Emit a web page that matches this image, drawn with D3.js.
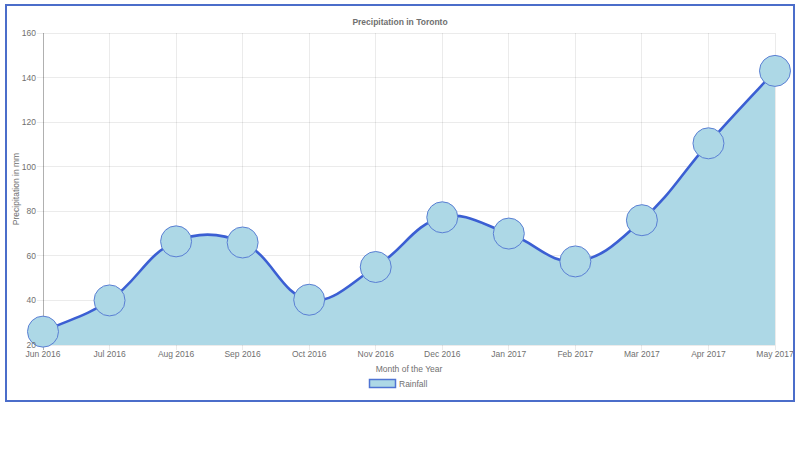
<!DOCTYPE html>
<html>
<head>
<meta charset="utf-8">
<script src="https://cdn.jsdelivr.net/npm/d3@7"></script>
<style>
  html, body { margin: 0; padding: 0; background: #fff; }
  svg { display: block; font-family: "Liberation Sans", Arial, Helvetica, sans-serif; }
</style>
</head>
<body>
<svg id="chart" width="800" height="450"></svg>
<script>
const months = ["Jun 2016","Jul 2016","Aug 2016","Sep 2016","Oct 2016","Nov 2016","Dec 2016","Jan 2017","Feb 2017","Mar 2017","Apr 2017","May 2017"];
const rainfall = [26, 40, 66.5, 66, 40.3, 55, 77.3, 70, 57.5, 76, 110.5, 143];
const yTicks = [20, 40, 60, 80, 100, 120, 140, 160];
const titleText = "Precipitation in Toronto";
const xTitle = "Month of the Year";
const yTitle = "Precipitation in mm";
const seriesName = "Rainfall";

(function () {
const svg = d3.select("#chart");
const pL = 43, pR = 775, pT = 33, pB = 345;

// outer border
svg.append("rect").attr("x", 6).attr("y", 5).attr("width", 788).attr("height", 396)
  .attr("fill", "none").attr("stroke", "#4b6dca").attr("stroke-width", 2);

const x = d3.scalePoint().domain(months).range([pL, pR]);
const y = d3.scaleLinear().domain([20, 160]).range([pB, pT]);

// grid
const g = svg.append("g");
g.selectAll(".hg").data(yTicks).join("line")
  .attr("x1", pL - 6).attr("x2", pR).attr("y1", d => y(d)).attr("y2", d => y(d))
  .attr("stroke", "rgba(0,0,0,0.08)").attr("shape-rendering", "crispEdges");
g.selectAll(".vg").data(months).join("line")
  .attr("x1", d => x(d)).attr("x2", d => x(d)).attr("y1", pT).attr("y2", pB + 5)
  .attr("stroke", "rgba(0,0,0,0.08)").attr("shape-rendering", "crispEdges");
g.append("line").attr("x1", pL).attr("x2", pL).attr("y1", pT).attr("y2", pB + 5)
  .attr("stroke", "rgba(0,0,0,0.25)").attr("shape-rendering", "crispEdges");

// Chart.js-style spline
const pts = rainfall.map((v, i) => ({ x: x(months[i]), y: y(v) }));
const t = 0.4;
pts.forEach((p, i) => {
  const prev = pts[i - 1] || p, next = pts[i + 1] || p;
  const d01 = Math.hypot(p.x - prev.x, p.y - prev.y);
  const d12 = Math.hypot(next.x - p.x, next.y - p.y);
  let s01 = d01 / (d01 + d12), s12 = d12 / (d01 + d12);
  if (isNaN(s01)) s01 = 0;
  if (isNaN(s12)) s12 = 0;
  const fa = t * s01, fb = t * s12;
  p.cp1x = Math.max(pL, Math.min(pR, p.x - fa * (next.x - prev.x)));
  p.cp1y = Math.max(pT, Math.min(pB, p.y - fa * (next.y - prev.y)));
  p.cp2x = Math.max(pL, Math.min(pR, p.x + fb * (next.x - prev.x)));
  p.cp2y = Math.max(pT, Math.min(pB, p.y + fb * (next.y - prev.y)));
});
function linePath(path) {
  path.moveTo(pts[0].x, pts[0].y);
  for (let i = 1; i < pts.length; i++) {
    const a = pts[i - 1], b = pts[i];
    path.bezierCurveTo(a.cp2x, a.cp2y, b.cp1x, b.cp1y, b.x, b.y);
  }
  return path;
}
const areaP = linePath(d3.path());
areaP.lineTo(pts[pts.length - 1].x, y(20));
areaP.lineTo(pts[0].x, y(20));
areaP.closePath();
svg.append("path").attr("d", areaP.toString()).attr("fill", "#add8e6");
svg.append("path").attr("d", linePath(d3.path()).toString())
  .attr("fill", "none").attr("stroke", "#3b5fd3").attr("stroke-width", 2.6);

// points
svg.selectAll(".pt").data(rainfall).join("circle")
  .attr("cx", (d, i) => x(months[i])).attr("cy", d => y(d)).attr("r", 15.5)
  .attr("fill", "#add8e6").attr("stroke", "#5a7fd4").attr("stroke-width", 1);

// y tick labels
svg.selectAll(".yl").data(yTicks).join("text")
  .attr("x", pL - 7).attr("y", d => y(d)).attr("dy", "0.35em")
  .attr("text-anchor", "end").attr("font-size", 8.5).attr("fill", "#707070").text(d => d);
// x tick labels
svg.selectAll(".xl").data(months).join("text")
  .attr("x", d => x(d)).attr("y", 357)
  .attr("text-anchor", "middle").attr("font-size", 8.5).attr("fill", "#707070").text(d => d);

// titles
svg.append("text").attr("x", 400).attr("y", 25).attr("text-anchor", "middle")
  .attr("font-size", 8.5).attr("font-weight", "bold").attr("fill", "#707070").text(titleText);
svg.append("text").attr("x", 409).attr("y", 372).attr("text-anchor", "middle")
  .attr("font-size", 8.5).attr("fill", "#707070").text(xTitle);
svg.append("text").attr("transform", "translate(19,189) rotate(-90)").attr("text-anchor", "middle")
  .attr("font-size", 8.5).attr("fill", "#707070").text(yTitle);

// legend
svg.append("rect").attr("x", 369.5).attr("y", 379.5).attr("width", 26).attr("height", 8)
  .attr("fill", "#add8e6").attr("stroke", "#4f74d3").attr("stroke-width", 1.5);
svg.append("text").attr("x", 399).attr("y", 386.5).attr("font-size", 8.5).attr("fill", "#707070").text(seriesName);
})();
</script>
</body>
</html>
